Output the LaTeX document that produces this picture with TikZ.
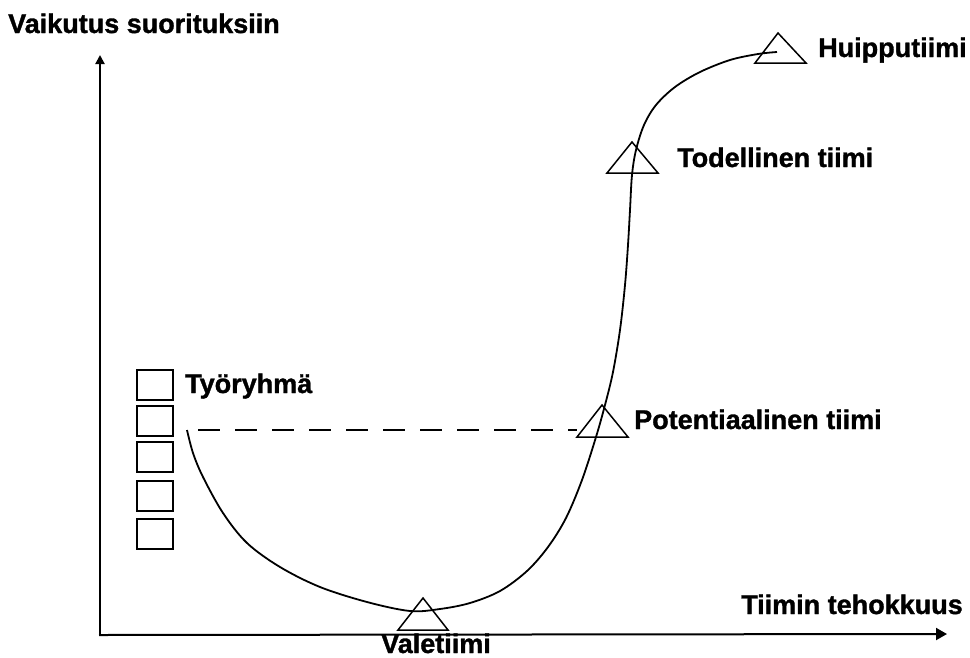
\documentclass[tikz,border=0pt]{standalone}
\usepackage{fontspec}
\setmainfont{Liberation Sans}[BoldFeatures={FakeBold=1.2}]
\usetikzlibrary{arrows.meta}
\begin{document}
\begin{tikzpicture}[x=1pt,y=-1pt,
  lbl/.style={inner sep=0pt,font=\fontsize{27}{31}\selectfont\bfseries},
  axis/.style={line width=2pt},
  tri/.style={line width=1.5pt,line join=miter},
  sq/.style={draw,line width=1.5pt,minimum width=36pt,minimum height=30pt,inner sep=0pt},
  curve/.style={line width=1.8pt,line join=round}]
\useasboundingbox (0,0) rectangle (970,657);
% axes
\coordinate (O) at (100,635);
\coordinate (Ytip) at (100,55);
\coordinate (Xtip) at (947,634);
\draw[axis,-{Triangle[length=9pt,width=9pt]}] (O) -- (Ytip);
\draw[axis,-{Triangle[length=11pt,width=12pt]}] (99,635) -- (Xtip);
% labels
\node[lbl,anchor=base west] (yl) at (8,33) {Vaikutus suorituksiin};
\node[lbl,anchor=base west] (xl) at (741,614) {Tiimin tehokkuus};
\node[lbl,anchor=base west] (huippu) at (818,57) {Huipputiimi};
\node[lbl,anchor=base west] (todel) at (677,167) {Todellinen tiimi};
\node[lbl,anchor=base west] (pot) at (634,429) {Potentiaalinen tiimi};
\node[lbl,anchor=base west] (tyo) at (185,393) {Työryhmä};
\node[lbl,anchor=base] (vale) at (436,653) {Valetiimi};
% squares
\node[sq] (s1) at (155,385) {};
\node[sq] (s2) at (155,421) {};
\node[sq] (s3) at (155,457) {};
\node[sq] (s4) at (155,496) {};
\node[sq] (s5) at (155,534) {};
% dashed line
\coordinate (dA) at (198,430);
\coordinate (dB) at (577,430);
\draw[line width=1.5pt,dash pattern=on 22pt off 15pt] (dA) -- (dB);
% curve
\draw[curve] plot[smooth,tension=0.55] coordinates {
 (187,430) (193,453) (203,477) (223,513) (247,543) (280,567) (320,587)
 (367,602) (410,611) (440,609) (470,603) (500,591) (527,571) (548,547)
 (566,518) (582,480) (596,437) (605,405) (613,372) (620,330) (625,285)
 (628,245) (630,210) (632,175) (636,150) (644,125) (656,105) (675,87)
 (700,72) (730,60) (758,54) (777,52)};
% triangles
\draw[tri] (423,598) -- (448,630) -- (398,630) -- cycle;
\draw[tri] (602,405) -- (628,437) -- (577,437) -- cycle;
\draw[tri] (632,142) -- (658,173) -- (607,173) -- cycle;
\draw[tri] (778,33) -- (806,63) -- (755,63) -- cycle;
\end{tikzpicture}
\end{document}
